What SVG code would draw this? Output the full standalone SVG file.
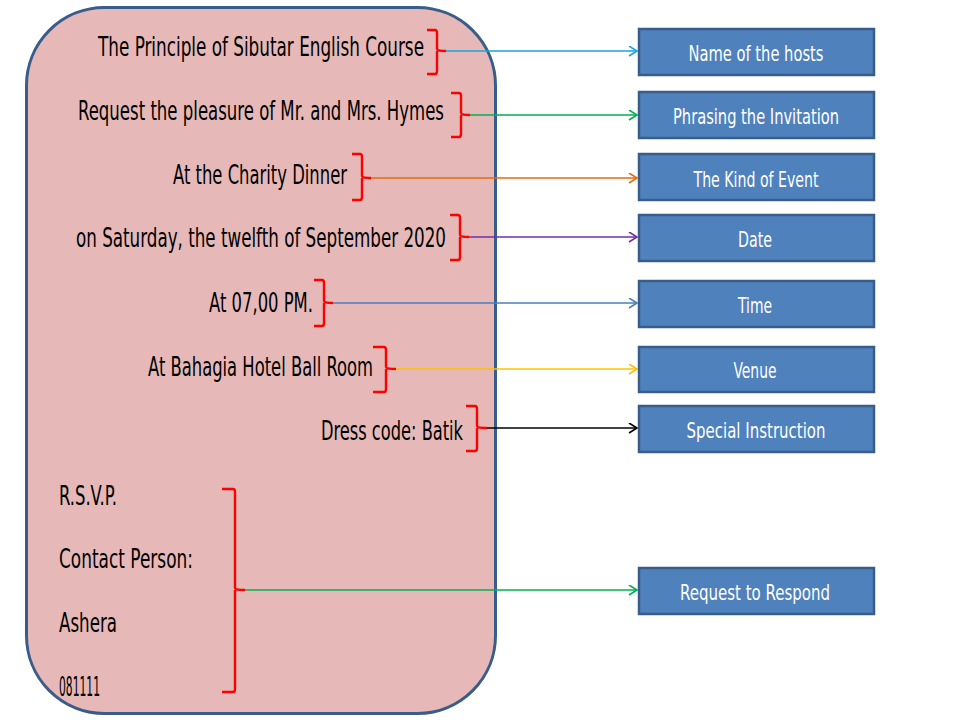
<svg xmlns="http://www.w3.org/2000/svg" width="960" height="720" viewBox="0 0 960 720">
<defs>
<style>
.lt{font-family:"DejaVu Sans Condensed","Liberation Sans",sans-serif;font-size:26px;fill:#000;text-anchor:end}
.ll{font-family:"DejaVu Sans Condensed","Liberation Sans",sans-serif;font-size:26px;fill:#000}
.box{fill:#4F81BD;stroke:#385D8A;stroke-width:2.5}
.bt{font-family:"DejaVu Sans Condensed","Liberation Sans",sans-serif;font-size:21px;fill:#fff;text-anchor:middle}
.br{fill:none;stroke:#FF0000;stroke-width:2.4;stroke-linejoin:round}
.cn{fill:none;stroke-width:1.6}
</style>
<marker id="m1" markerWidth="12" markerHeight="12" refX="9" refY="5" orient="auto" markerUnits="userSpaceOnUse"><path d="M1,0 L9,5 L1,10" fill="none" stroke="#1AA3DE" stroke-width="1.6"/></marker>
<marker id="m2" markerWidth="12" markerHeight="12" refX="9" refY="5" orient="auto" markerUnits="userSpaceOnUse"><path d="M1,0 L9,5 L1,10" fill="none" stroke="#00B050" stroke-width="1.6"/></marker>
<marker id="m3" markerWidth="12" markerHeight="12" refX="9" refY="5" orient="auto" markerUnits="userSpaceOnUse"><path d="M1,0 L9,5 L1,10" fill="none" stroke="#E46C0A" stroke-width="1.6"/></marker>
<marker id="m4" markerWidth="12" markerHeight="12" refX="9" refY="5" orient="auto" markerUnits="userSpaceOnUse"><path d="M1,0 L9,5 L1,10" fill="none" stroke="#7030A0" stroke-width="1.6"/></marker>
<marker id="m5" markerWidth="12" markerHeight="12" refX="9" refY="5" orient="auto" markerUnits="userSpaceOnUse"><path d="M1,0 L9,5 L1,10" fill="none" stroke="#4A7EBB" stroke-width="1.6"/></marker>
<marker id="m6" markerWidth="12" markerHeight="12" refX="9" refY="5" orient="auto" markerUnits="userSpaceOnUse"><path d="M1,0 L9,5 L1,10" fill="none" stroke="#FFC000" stroke-width="1.6"/></marker>
<marker id="m7" markerWidth="12" markerHeight="12" refX="9" refY="5" orient="auto" markerUnits="userSpaceOnUse"><path d="M1,0 L9,5 L1,10" fill="none" stroke="#000000" stroke-width="1.6"/></marker>
</defs>
<rect width="960" height="720" fill="#fff"/>

<g id="invitation">
<rect x="26.5" y="7.5" width="469" height="706" rx="78" ry="78" fill="#E6B9B8" stroke="#385D8A" stroke-width="3"/>
<text class="lt" x="424" y="56" textLength="326" lengthAdjust="spacingAndGlyphs">The Principle of Sibutar English Course</text>
<text class="lt" x="444" y="120" textLength="366" lengthAdjust="spacingAndGlyphs">Request the pleasure of Mr. and Mrs. Hymes</text>
<text class="lt" x="347" y="184" textLength="174" lengthAdjust="spacingAndGlyphs">At the Charity Dinner</text>
<text class="lt" x="446" y="247" textLength="370" lengthAdjust="spacingAndGlyphs">on Saturday, the twelfth of September 2020</text>
<text class="lt" x="313" y="312" textLength="104" lengthAdjust="spacingAndGlyphs">At 07,00 PM.</text>
<text class="lt" x="373" y="376" textLength="225" lengthAdjust="spacingAndGlyphs">At Bahagia Hotel Ball Room</text>
<text class="lt" x="463" y="440" textLength="142" lengthAdjust="spacingAndGlyphs">Dress code: Batik</text>
<text class="ll" x="59" y="505" textLength="58" lengthAdjust="spacingAndGlyphs">R.S.V.P.</text>
<text class="ll" x="59" y="568" textLength="134" lengthAdjust="spacingAndGlyphs">Contact Person:</text>
<text class="ll" x="59" y="632" textLength="58" lengthAdjust="spacingAndGlyphs">Ashera</text>
<text class="ll" x="59" y="696" textLength="41" lengthAdjust="spacingAndGlyphs">081111</text>
</g>

<g id="braces">
<path class="br" d="M427,30 L435,30 Q437,30 437,33 L437,49 Q437,51 446,51 M437,51 Q437,53 437,55 L437,71 Q437,74 435,74 L427,74"/>
<path class="br" d="M451,93 L459,93 Q461,93 461,96 L461,113 Q461,115 470,115 M461,115 Q461,117 461,119 L461,134 Q461,137 459,137 L451,137"/>
<path class="br" d="M352,154 L360,154 Q362,154 362,157 L362,176 Q362,178 371,178 M362,178 Q362,180 362,182 L362,197 Q362,200 360,200 L352,200"/>
<path class="br" d="M450,215 L458,215 Q460,215 460,218 L460,235 Q460,237 469,237 M460,237 Q460,239 460,241 L460,257 Q460,260 458,260 L450,260"/>
<path class="br" d="M314,280 L322,280 Q324,280 324,283 L324,301 Q324,303 333,303 M324,303 Q324,305 324,307 L324,323 Q324,326 322,326 L314,326"/>
<path class="br" d="M373,347 L384,347 Q386,347 386,350 L386,367 Q386,369 396,369 M386,369 Q386,371 386,373 L386,389 Q386,392 384,392 L373,392"/>
<path class="br" d="M466,406 L475,406 Q477,406 477,409 L477,426 Q477,428 487,428 M477,428 Q477,430 477,432 L477,448 Q477,451 475,451 L466,451"/>
<path class="br" d="M222,489 L233,489 Q235,489 235,492 L235,588 Q235,590 245,590 M235,590 Q235,592 235,594 L235,689 Q235,692 233,692 L222,692"/>
</g>

<g id="connectors">
<line class="cn" x1="446" y1="51" x2="637" y2="51" stroke="#1AA3DE" marker-end="url(#m1)"/>
<line class="cn" x1="470" y1="115" x2="637" y2="115" stroke="#00B050" marker-end="url(#m2)"/>
<line class="cn" x1="371" y1="178" x2="637" y2="178" stroke="#E46C0A" marker-end="url(#m3)"/>
<line class="cn" x1="469" y1="237" x2="637" y2="237" stroke="#7030A0" marker-end="url(#m4)"/>
<line class="cn" x1="333" y1="303" x2="637" y2="303" stroke="#4A7EBB" marker-end="url(#m5)"/>
<line class="cn" x1="396" y1="369" x2="637" y2="369" stroke="#FFC000" marker-end="url(#m6)"/>
<line class="cn" x1="487" y1="428" x2="637" y2="428" stroke="#000000" marker-end="url(#m7)"/>
<line class="cn" x1="245" y1="590" x2="637" y2="590" stroke="#00B050" marker-end="url(#m2)"/>
</g>

<g id="n-hosts"><rect class="box" x="639" y="29" width="235" height="46"/><text class="bt" x="756" y="61" textLength="135" lengthAdjust="spacingAndGlyphs">Name of the hosts</text></g>
<g id="n-phrasing"><rect class="box" x="639" y="92" width="235" height="46"/><text class="bt" x="756" y="124" textLength="166" lengthAdjust="spacingAndGlyphs">Phrasing the Invitation</text></g>
<g id="n-kind"><rect class="box" x="639" y="154" width="235" height="46"/><text class="bt" x="756" y="187" textLength="125" lengthAdjust="spacingAndGlyphs">The Kind of Event</text></g>
<g id="n-date"><rect class="box" x="639" y="215" width="235" height="46"/><text class="bt" x="755" y="247" textLength="34" lengthAdjust="spacingAndGlyphs">Date</text></g>
<g id="n-time"><rect class="box" x="639" y="281" width="235" height="46"/><text class="bt" x="755" y="313" textLength="34" lengthAdjust="spacingAndGlyphs">Time</text></g>
<g id="n-venue"><rect class="box" x="639" y="347" width="235" height="45"/><text class="bt" x="755" y="378" textLength="43" lengthAdjust="spacingAndGlyphs">Venue</text></g>
<g id="n-special"><rect class="box" x="639" y="406" width="235" height="46"/><text class="bt" x="756" y="438" textLength="139" lengthAdjust="spacingAndGlyphs">Special Instruction</text></g>
<g id="n-respond"><rect class="box" x="639" y="568" width="235" height="46"/><text class="bt" x="755" y="600" textLength="150" lengthAdjust="spacingAndGlyphs">Request to Respond</text></g>
</svg>
